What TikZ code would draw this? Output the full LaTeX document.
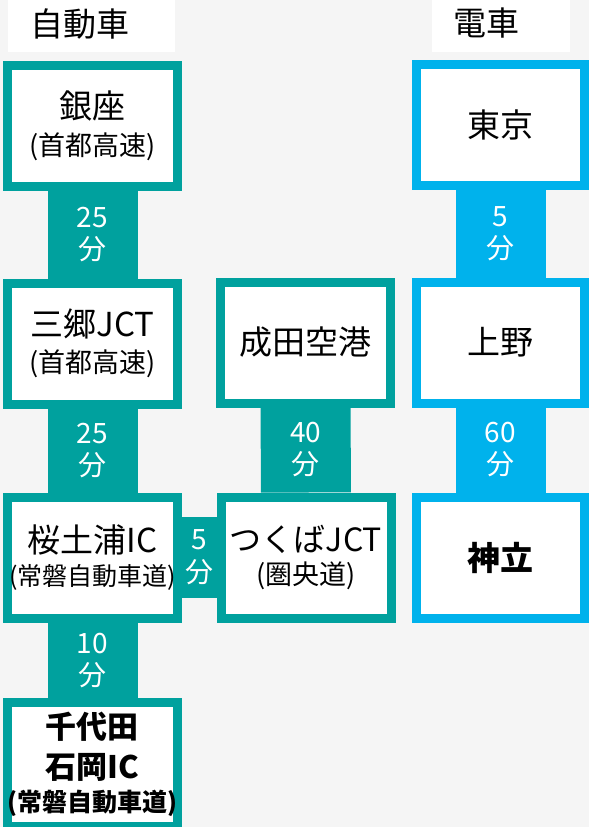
\documentclass[tikz,border=0pt]{standalone}
\usepackage{fontspec}
\setmainfont{Noto Sans CJK JP}
\definecolor{tealc}{RGB}{0,161,158}
\definecolor{bluec}{RGB}{0,178,236}
\definecolor{bgc}{RGB}{245,245,245}
\begin{document}
\begin{tikzpicture}[x=1pt,y=-1pt,
  box/.style={draw, fill=white, line width=9pt, minimum width=170pt, minimum height=121pt, inner sep=0pt, align=center, text=black},
  tbox/.style={box, draw=tealc},
  bbox/.style={box, draw=bluec, minimum width=168pt},
  link/.style={line width=90pt},
  tlink/.style={link, draw=tealc},
  blink/.style={link, draw=bluec},
  mins/.style={text=white, align=center, inner sep=0pt, font={\fontsize{28}{30}\selectfont}},
  hdr/.style={text=black, inner sep=0pt, font={\fontsize{33}{36}\selectfont}}
]
\fill[bgc] (0,0) rectangle (589,827);
\useasboundingbox (0,0) rectangle (589,827);

% headers
\fill[white] (8,0) rectangle (175,52);
\fill[white] (432,0) rectangle (570,52);
\node[hdr] (hcar) at (80,24) {自動車};
\node[hdr] (htrain) at (486,23) {電車};

% left column
\node[tbox] (ginza) at (92.5,126) {\fontsize{33}{38}\selectfont 銀座\\[10pt]\fontsize{27}{38}\selectfont (首都高速)};
\node[tbox] (misato) at (92.5,343.5) {\fontsize{33}{38}\selectfont 三郷JCT\\[10pt]\fontsize{27}{38}\selectfont (首都高速)};
\node[tbox] (sakura) at (92.5,557.5) {\fontsize{33}{35}\selectfont 桜土浦IC\\[8pt]\fontsize{25}{35}\selectfont (常磐自動車道)};
\node[tbox, minimum height=124pt, font=\bfseries] (chiyoda) at (92.5,764.5) {\fontsize{31}{38}\selectfont 千代田\\[11pt]\fontsize{31}{37}\selectfont 石岡IC\\[8pt]\fontsize{25}{35}\selectfont (常磐自動車道)};

% middle column
\node[tbox] (narita) at (305.5,342.5) {\fontsize{33}{38}\selectfont 成田空港};
\node[tbox] (tsukuba) at (306,557.5) {\fontsize{32}{35}\selectfont つくばJCT\\[8pt]\fontsize{27}{35}\selectfont (圏央道)};

% right column
\node[bbox] (tokyo) at (500.5,125) {\fontsize{33}{38}\selectfont 東京};
\node[bbox] (ueno) at (500.5,342.5) {\fontsize{33}{38}\selectfont 上野};
\node[bbox, font=\bfseries] (kandatsu) at (500.5,557.5) {\fontsize{33}{38}\selectfont 神立};

% connectors
\draw[tlink] (ginza) -- node[mins] (l1) {25\\[2pt]分} (misato);
\draw[tlink] (misato) -- node[mins] (l2) {25\\[2pt]分} (sakura);
\draw[tlink] (sakura) -- node[mins] (l3) {10\\[2pt]分} (chiyoda);
\draw[tlink] (narita) -- node[mins] (l4) {40\\[2pt]分} (tsukuba);
\draw[tlink, line width=81pt] (sakura) -- node[mins] (l5) {5\\[3pt]分} (tsukuba);
\draw[blink] (tokyo) -- node[mins] (l6) {5\\[2pt]分} (ueno);
\draw[blink] (ueno) -- node[mins] (l7) {60\\[2pt]分} (kandatsu);
\end{tikzpicture}
\end{document}
